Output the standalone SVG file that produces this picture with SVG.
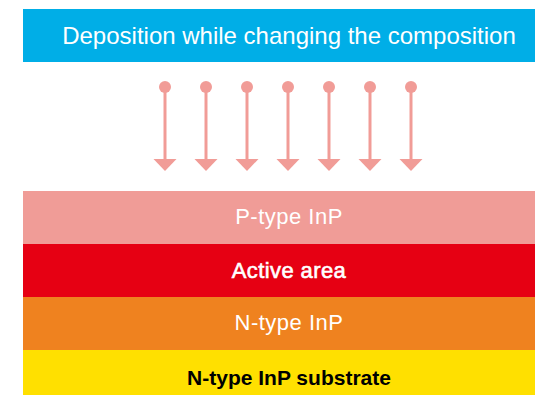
<svg xmlns="http://www.w3.org/2000/svg" width="535" height="395" viewBox="0 0 535 395">
<style>
text{font-family:"Liberation Sans",Arial,sans-serif;text-anchor:middle}
.w{fill:#ffffff}
.k{fill:#000000}
.arr{stroke:#F19C97;stroke-width:3;fill:none}
.dot{fill:#F19C97}
.head{fill:#F19C97}
</style>
<rect width="535" height="395" fill="#ffffff"/>
<g id="title">
<rect x="23" y="9" width="512" height="53" fill="#00AEE7"/>
<text class="w" x="289" y="44" font-size="24">Deposition while changing the composition</text>
</g>
<g id="arrows">
<g transform="translate(165,0)"><circle class="dot" cx="0" cy="87" r="6"/><line class="arr" x1="0" y1="87" x2="0" y2="160"/><polygon class="head" points="-11.5,159 11.5,159 0,171"/></g>
<g transform="translate(206,0)"><circle class="dot" cx="0" cy="87" r="6"/><line class="arr" x1="0" y1="87" x2="0" y2="160"/><polygon class="head" points="-11.5,159 11.5,159 0,171"/></g>
<g transform="translate(247,0)"><circle class="dot" cx="0" cy="87" r="6"/><line class="arr" x1="0" y1="87" x2="0" y2="160"/><polygon class="head" points="-11.5,159 11.5,159 0,171"/></g>
<g transform="translate(288,0)"><circle class="dot" cx="0" cy="87" r="6"/><line class="arr" x1="0" y1="87" x2="0" y2="160"/><polygon class="head" points="-11.5,159 11.5,159 0,171"/></g>
<g transform="translate(329,0)"><circle class="dot" cx="0" cy="87" r="6"/><line class="arr" x1="0" y1="87" x2="0" y2="160"/><polygon class="head" points="-11.5,159 11.5,159 0,171"/></g>
<g transform="translate(370,0)"><circle class="dot" cx="0" cy="87" r="6"/><line class="arr" x1="0" y1="87" x2="0" y2="160"/><polygon class="head" points="-11.5,159 11.5,159 0,171"/></g>
<g transform="translate(411,0)"><circle class="dot" cx="0" cy="87" r="6"/><line class="arr" x1="0" y1="87" x2="0" y2="160"/><polygon class="head" points="-11.5,159 11.5,159 0,171"/></g>
</g>
<g id="p-type">
<rect x="23" y="191" width="512" height="53" fill="#F09C97"/>
<text class="w" x="289" y="223.5" font-size="22" letter-spacing="0.5">P-type InP</text>
</g>
<g id="active">
<rect x="23" y="244" width="512" height="53" fill="#E60013"/>
<text class="w" x="289" y="277.5" font-size="22" stroke="#ffffff" stroke-width="0.6" letter-spacing="0.4">Active area</text>
</g>
<g id="n-type">
<rect x="23" y="297" width="512" height="53" fill="#EF821F"/>
<text class="w" x="289" y="329.5" font-size="22" letter-spacing="0.5">N-type InP</text>
</g>
<g id="substrate">
<rect x="23" y="350" width="512" height="45" fill="#FFE000"/>
<text class="k" x="289" y="385" font-size="21" font-weight="bold">N-type InP substrate</text>
</g>
</svg>
